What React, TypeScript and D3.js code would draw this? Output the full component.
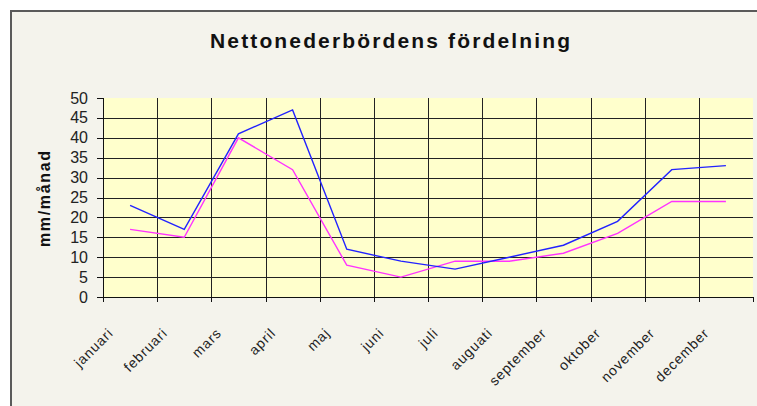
import * as d3 from 'd3';
import React from 'react';

const months = ['januari', 'februari', 'mars', 'april', 'maj', 'juni', 'juli', 'auguati', 'september', 'oktober', 'november', 'december'];
const blueSeries = [23, 17, 41, 47, 12, 9, 7, 10, 13, 19, 32, 33];
const pinkSeries = [17, 15, 40, 32, 8, 5, 9, 9, 11, 16, 24, 24];
const yTicks = [0, 5, 10, 15, 20, 25, 30, 35, 40, 45, 50];

const W = 757;
const H = 406;
const plot = { left: 103, right: 753, top: 98, bottom: 297 };
const font = '"Liberation Sans", Arial, sans-serif';

const App = () => {
  const x = d3.scaleBand<string>().domain(months).range([plot.left, plot.right]).padding(0);
  const y = d3.scaleLinear().domain([0, 50]).range([plot.bottom, plot.top]);
  const cx = (m: string) => (x(m) as number) + x.bandwidth() / 2;

  const line = d3.line<number>()
    .x((d, i) => cx(months[i]))
    .y((d) => y(d));

  const boundaries = months.map((m) => x(m) as number).concat([plot.right]);

  return (
    <svg width={W} height={H} style={{ position: 'absolute', left: 0, top: 0 }} fontFamily={font}>
      <rect x={0} y={0} width={W} height={H} fill="#ffffff" />
      <rect x={11} y={11} width={W} height={H} fill="#f4f3ec" stroke="#5a5a5a" strokeWidth={2} />

      <text x={390} y={48} textAnchor="middle" fontSize={21} fontWeight="bold" fill="#111"
        textLength={360} lengthAdjust="spacing">
        Nettonederbördens fördelning
      </text>

      {/* plot area */}
      <rect x={plot.left} y={plot.top} width={plot.right - plot.left} height={plot.bottom - plot.top} fill="#ffffcc" />

      {/* horizontal grid */}
      {yTicks.filter((t) => t > 0 && t < 50).map((t) => (
        <line key={'h' + t} x1={plot.left} x2={plot.right} y1={Math.round(y(t)) + 0.5} y2={Math.round(y(t)) + 0.5}
          stroke="#222" strokeWidth={1} />
      ))}
      {/* vertical grid */}
      {boundaries.slice(1, -1).map((b, i) => (
        <line key={'v' + i} x1={Math.round(b) + 0.5} x2={Math.round(b) + 0.5} y1={plot.top} y2={plot.bottom}
          stroke="#222" strokeWidth={1} />
      ))}

      {/* axes */}
      <line x1={plot.left + 0.5} x2={plot.left + 0.5} y1={plot.top} y2={plot.bottom} stroke="#111" />
      <line x1={plot.left} x2={plot.right + 1} y1={plot.bottom + 0.5} y2={plot.bottom + 0.5} stroke="#111" />
      {yTicks.map((t) => (
        <g key={'yt' + t}>
          <line x1={plot.left - 6} x2={plot.left} y1={Math.round(y(t)) + 0.5} y2={Math.round(y(t)) + 0.5} stroke="#111" />
          <text x={88} y={y(t) + 5.5} textAnchor="end" fontSize={16} fill="#222">{t}</text>
        </g>
      ))}
      {boundaries.map((b, i) => (
        <line key={'xt' + i} x1={Math.round(b) + 0.5} x2={Math.round(b) + 0.5} y1={plot.bottom} y2={plot.bottom + 5} stroke="#111" />
      ))}

      {months.map((m) => (
        <text key={m} transform={`translate(${cx(m) - 16},334) rotate(-45)`} textAnchor="end"
          fontSize={14} fill="#222" letterSpacing={0.9}>
          {m}
        </text>
      ))}

      <text transform="translate(50,199) rotate(-90)" textAnchor="middle" fontSize={16} fontWeight="bold" fill="#111"
        textLength={96} lengthAdjust="spacing">
        mm/månad
      </text>

      <path d={line(pinkSeries) as string} fill="none" stroke="#ff33ff" strokeWidth={1.4} />
      <path d={line(blueSeries) as string} fill="none" stroke="#2222ff" strokeWidth={1.4} />
    </svg>
  );
};

export default App;
